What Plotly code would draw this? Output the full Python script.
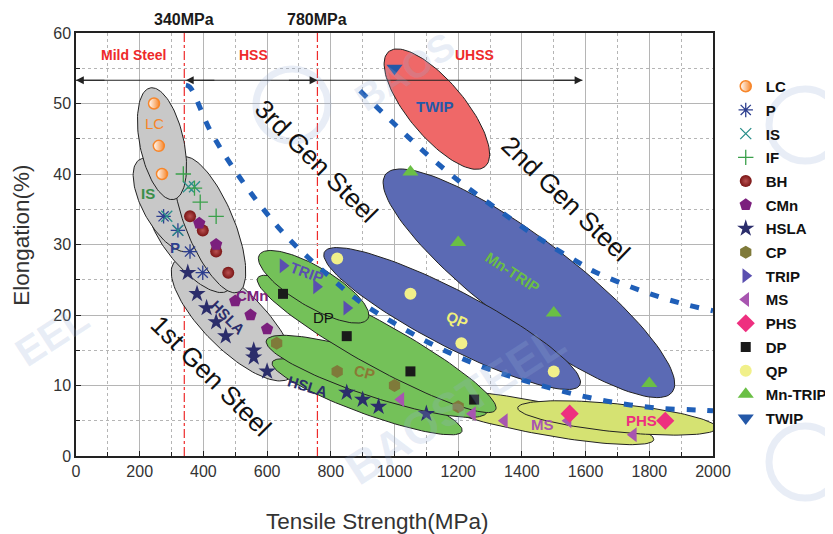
import numpy as np
import plotly.graph_objects as go

# ---------------- data ----------------
LC_x = [245, 260, 270];            LC_y = [50, 44, 40]
P_x = [275, 320, 358, 398];        P_y = [34, 32, 29, 26]
IS_x = [285, 320, 353, 372];       IS_y = [34, 32, 38.2, 38.2]
IF_x = [337, 372, 390, 440];       IF_y = [40, 38, 36, 34]
BH_x = [358, 398, 440, 478];       BH_y = [34, 32, 29, 26]
CMn_x = [387, 440, 500, 548, 600]; CMn_y = [33, 30, 22, 20, 18]
HSLA_x = [351, 380, 410, 440, 470, 558, 558, 600, 850, 900, 950, 1100]
HSLA_y = [26, 23, 21, 19, 17, 15, 14, 12, 9, 8, 7, 6]
CP_x = [630, 820, 1000, 1200];     CP_y = [16, 12, 10, 7]
TRIP_x = [650, 755, 850];          TRIP_y = [27, 24, 21]
MS_x = [1020, 1245, 1345, 1545, 1750]; MS_y = [8, 6, 5, 5, 3]
PHS_x = [1550, 1850];              PHS_y = [6, 5]
DP_x = [650, 850, 1050, 1250];     DP_y = [23, 17, 12, 8]
QP_x = [820, 1050, 1210, 1500];    QP_y = [28, 23, 16, 12]
MnTRIP_x = [1050, 1200, 1500, 1800]; MnTRIP_y = [40.3, 30.3, 20.3, 10.3]
TWIP_x = [1000];                   TWIP_y = [55]

# generation boundary curves
gen3_x = [345, 358, 421, 493, 578, 666, 772, 885, 1008, 1133, 1262, 1400, 1535, 1677, 1824, 1965, 2000]
gen3_y = [52.6, 52.3, 46.2, 40.9, 35.6, 30.9, 26.4, 22.1, 18.6, 15.5, 12.9, 10.8, 9.1, 7.7, 6.8, 6.5, 6.4]
gen2_x = [892, 995, 1102, 1211, 1326, 1446, 1572, 1630, 1771, 1896, 2000]
gen2_y = [51.8, 47.3, 42.8, 38.7, 34.9, 31.1, 27.6, 26.1, 23.5, 21.7, 20.6]

boundary_strength = [340, 758]
boundary_labels = ["340MPa", "780MPa"]
arrow_y = 53.3
arrow_end = 1590

X_RANGE = [0, 2000]
Y_RANGE = [0, 60]
# the page body has an 8px margin, so the figure is shifted accordingly
ML, MR, MT, MB = 68, 120, 25, 78
W, H = 825, 526
PW, PH = W - ML - MR, H - MT - MB
SX = PW / (X_RANGE[1] - X_RANGE[0])
SY = PH / (Y_RANGE[1] - Y_RANGE[0])
PLOT_LEFT, PLOT_BOTTOM = ML + 8, MT + 8 + PH   # on-screen pixels

GRAY = "#c8c8c8"
GREEN = "#74c159"
BLUE = "#5b6ab4"
RED = "#ef6868"
YEL = "#d5e272"

# ellipses: center (MPa, %), semi-axes (px), screen angle (deg, clockwise), fill
ellipses = [
    (493, 19.4, 82, 30, 45, GRAY),     # 1st gen HSLA/CMn
    (358, 29.9, 59, 22, 50, GRAY),     # P
    (279, 35.6, 52, 22, 61, GRAY),     # IS
    (421, 32.8, 73, 24, 67.5, GRAY),   # IF/BH
    (270, 44.3, 57, 22, 78, GRAY),     # LC
    (1444, 5.5, 120, 16, 10.8, YEL),   # MS
    (1699, 5.4, 100, 14, 5.8, YEL),    # PHS
    (914, 8.4, 101, 17, 20, GREEN),    # HSLA
    (944, 11.3, 116, 21, 18, GREEN),   # CP
    (944, 15.9, 136, 22, 29, GREEN),   # DP
    (746, 24.0, 63, 20, 30.5, GREEN),  # TRIP
    (1422, 24.5, 180, 44, 37.2, BLUE), # Mn-TRIP
    (1181, 19.5, 144, 28, 27.5, BLUE), # QP
    (1133, 49.2, 75, 28, 50, RED),     # TWIP
]

fig = go.Figure()

t = np.linspace(0, 2 * np.pi, 120)
for cx, cy, a, b, ang, col in ellipses:
    th = np.deg2rad(ang)
    u, v = a * np.cos(t), b * np.sin(t)
    dxp = u * np.cos(th) - v * np.sin(th)
    dyp = u * np.sin(th) + v * np.cos(th)
    fig.add_trace(go.Scatter(x=cx + dxp / SX, y=cy - dyp / SY, mode="lines",
                             fill="toself", fillcolor=col,
                             line=dict(color="#222222", width=1),
                             hoverinfo="skip", showlegend=False))

# generation boundary dashed curves
for gx, gy in [(gen3_x, gen3_y), (gen2_x, gen2_y)]:
    fig.add_trace(go.Scatter(x=gx, y=gy, mode="lines", showlegend=False,
                             line=dict(color="#1f5fb8", width=5, dash="9px,12px", shape="spline"),
                             hoverinfo="skip"))

# arrow line
fig.add_trace(go.Scatter(x=[0, arrow_end], y=[arrow_y, arrow_y], mode="lines",
                         line=dict(color="#222222", width=1.2), showlegend=False, hoverinfo="skip"))

series = [
    ("LC", LC_x, LC_y, dict(symbol="circle", size=11, color="white",
                            gradient=dict(type="horizontal", color="#f7862a"),
                            line=dict(color="#f7862a", width=1.5))),
    ("P", P_x, P_y, dict(symbol="asterisk-open", size=12, color="#2e3f8f", line=dict(color="#2e3f8f", width=1.3))),
    ("IS", IS_x, IS_y, dict(symbol="x-thin-open", size=11, color="#2a8f8a", line=dict(color="#2a8f8a", width=1.3))),
    ("IF", IF_x, IF_y, dict(symbol="cross-thin-open", size=11, color="#3aa04a", line=dict(color="#3aa04a", width=1.3))),
    ("BH", BH_x, BH_y, dict(symbol="circle", size=12, color="#7a1515",
                            gradient=dict(type="radial", color="#b85050"), line=dict(width=0))),
    ("CMn", CMn_x, CMn_y, dict(symbol="pentagon", size=13, color="#7b1f7d", line=dict(width=0))),
    ("HSLA", HSLA_x, HSLA_y, dict(symbol="star", size=13, color="#2b2d6b", line=dict(width=0))),
    ("CP", CP_x, CP_y, dict(symbol="hexagon", size=13, color="#7f7a3a", line=dict(width=0))),
    ("TRIP", TRIP_x, TRIP_y, dict(symbol="triangle-right", size=13, color="#5a4fb0", line=dict(width=0))),
    ("MS", MS_x, MS_y, dict(symbol="triangle-left", size=13, color="#a855b0", line=dict(width=0))),
    ("PHS", PHS_x, PHS_y, dict(symbol="diamond", size=14, color="#ee2f7f", line=dict(width=0))),
    ("DP", DP_x, DP_y, dict(symbol="square", size=10, color="#1a1a1a", line=dict(width=0))),
    ("QP", QP_x, QP_y, dict(symbol="circle", size=12, color="#f1f08a", line=dict(width=0))),
    ("Mn-TRIP", MnTRIP_x, MnTRIP_y, dict(symbol="triangle-up", size=14, color="#6abf45", line=dict(width=0))),
    ("TWIP", TWIP_x, TWIP_y, dict(symbol="triangle-down", size=14, color="#2458a8", line=dict(width=0))),
]
for name, xs, ys, mk in series:
    fig.add_trace(go.Scatter(x=xs, y=ys, mode="markers", name=name, legendgroup=name, marker=mk))

ann = []
# axis titles (placed as in the reference)
ann.append(dict(x=0.474, y=-0.156, xref="paper", yref="paper", text="Tensile Strength(MPa)",
                showarrow=False, xanchor="center", yanchor="middle",
                font=dict(family="Arial", size=22.5, color="#333333")))
ann.append(dict(x=-0.085, y=0.5225, xref="paper", yref="paper", text="Elongation(%)",
                showarrow=False, xanchor="center", yanchor="middle", textangle=-90,
                font=dict(family="Arial", size=22.5, color="#333333")))
# region labels
for txt, x in [("Mild Steel", 179), ("HSS", 556), ("UHSS", 1250)]:
    ann.append(dict(x=x, y=56.9, text=txt, showarrow=False,
                    font=dict(family="Arial", size=14, color="#ee2a2a", weight="bold")))
for xv, lab in zip(boundary_strength, boundary_labels):
    ann.append(dict(x=xv, y=1.031, yref="paper", yanchor="middle", text=lab, showarrow=False,
                    font=dict(family="Arial", size=16, color="#1a1a1a", weight="bold")))
# arrowheads
for xv, ax in [(0, 30), (345, 30), (758, -30), (arrow_end, -30)]:
    ann.append(dict(x=xv, y=arrow_y, ax=ax, ay=0, showarrow=True, arrowhead=2,
                    arrowsize=1.3, arrowwidth=1.2, arrowcolor="#222222", text=""))
# generation texts
for txt, x, y, ang in [("3rd Gen Steel", 754, 41.8, 45), ("2nd Gen Steel", 1539, 36.5, 44),
                       ("1st Gen Steel", 424, 11.3, 45)]:
    ann.append(dict(x=x, y=y, text=txt, textangle=ang, showarrow=False,
                    font=dict(family="Arial", size=26, color="#111111")))
# ellipse labels
labels = [
    ("LC", 245, 47.1, 0, "#f7862a", "normal"),
    ("IS", 226, 37.2, 0, "#3a8f4a", "bold"),
    ("P", 311, 29.6, 0, "#2e3f8f", "bold"),
    ("HSLA", 477, 19.6, 45, "#2b2d6b", "bold"),
    ("CMn", 553, 22.7, 0, "#7b1f7d", "bold"),
    ("TRIP", 725, 26.1, 20, "#5a4fb0", "bold"),
    ("DP", 776, 19.7, 0, "#111111", "normal"),
    ("CP", 907, 11.8, 15, "#8a7a35", "bold"),
    ("HSLA", 728, 9.8, 17, "#2b2d6b", "bold"),
    ("QP", 1196, 19.3, 22, "#f0f07a", "bold"),
    ("Mn-TRIP", 1372, 26.0, 33, "#6abf45", "bold"),
    ("TWIP", 1127, 49.6, 0, "#2458a8", "bold"),
    ("MS", 1466, 4.5, 0, "#a855b0", "bold"),
    ("PHS", 1774, 5.1, 0, "#ee2f7f", "bold"),
]
for txt, x, y, ang, col, wt in labels:
    ann.append(dict(x=x, y=y, text=txt, textangle=ang, showarrow=False,
                    font=dict(family="Arial", size=15, color=col, weight=wt)))


def px_to_paper(px, py):
    return (px - PLOT_LEFT) / PW, (PLOT_BOTTOM - py) / PH


# faint watermark (only the parts visible in the reference)
WM = "rgba(150,175,215,0.22)"
for txt, px, py, sz in [("BAOS", 405, 72, 38), ("BAOSTEEL", 455, 405, 46), ("EEL", 52, 335, 40)]:
    wx, wy = px_to_paper(px, py)
    ann.append(dict(x=wx, y=wy, xref="paper", yref="paper", text=txt, textangle=-33,
                    showarrow=False, xanchor="center", yanchor="middle",
                    font=dict(family="Arial", size=sz, color=WM, weight="bold")))

shapes = []
for xv in boundary_strength:
    shapes.append(dict(type="line", x0=xv, x1=xv, y0=0, y1=1, xref="x", yref="paper",
                       line=dict(color="#ee2a2a", width=1.2, dash="dashdot"), layer="below"))
# watermark logo rings
for px, py in [(292, 105), (805, 125), (805, 462)]:
    r = 36
    x0, y0 = px_to_paper(px - r, py + r)
    x1, y1 = px_to_paper(px + r, py - r)
    shapes.append(dict(type="circle", xref="paper", yref="paper", x0=x0, x1=x1, y0=y0, y1=y1,
                       line=dict(color=WM, width=7), layer="above"))

fig.update_layout(
    width=W, height=H, margin=dict(l=ML, r=MR, t=MT, b=MB, autoexpand=False),
    paper_bgcolor="white", plot_bgcolor="white",
    annotations=ann, shapes=shapes,
    font=dict(family="Arial", color="#333333"),
    legend=dict(x=1.02, y=0.9125, xanchor="left", yanchor="top",
                font=dict(family="Arial", size=15, color="#111111", weight="bold"),
                bgcolor="rgba(0,0,0,0)", traceorder="grouped", tracegroupgap=1.2),
    xaxis=dict(range=X_RANGE, dtick=200, tick0=0, showline=True, linecolor="#222222",
               linewidth=1.5, mirror=True, ticks="inside", ticklen=5, tickcolor="#222222",
               showgrid=True, gridcolor="#b5b5b5", gridwidth=1, zeroline=False, automargin=False,
               minor=dict(dtick=100, ticks="inside", ticklen=4, tickcolor="#222222",
                          showgrid=True, gridcolor="#b5b5b5", griddash="dot"),
               tickfont=dict(size=16, color="#333333")),
    yaxis=dict(range=Y_RANGE, dtick=10, tick0=0, showline=True, linecolor="#222222",
               linewidth=1.5, mirror=True, ticks="inside", ticklen=5, tickcolor="#222222",
               showgrid=True, gridcolor="#b5b5b5", gridwidth=1, zeroline=False, automargin=False,
               minor=dict(dtick=5, ticks="inside", ticklen=4, tickcolor="#222222",
                          showgrid=True, gridcolor="#b5b5b5", griddash="dot"),
               tickfont=dict(size=16, color="#333333")),
)

fig.write_html("out.html")
